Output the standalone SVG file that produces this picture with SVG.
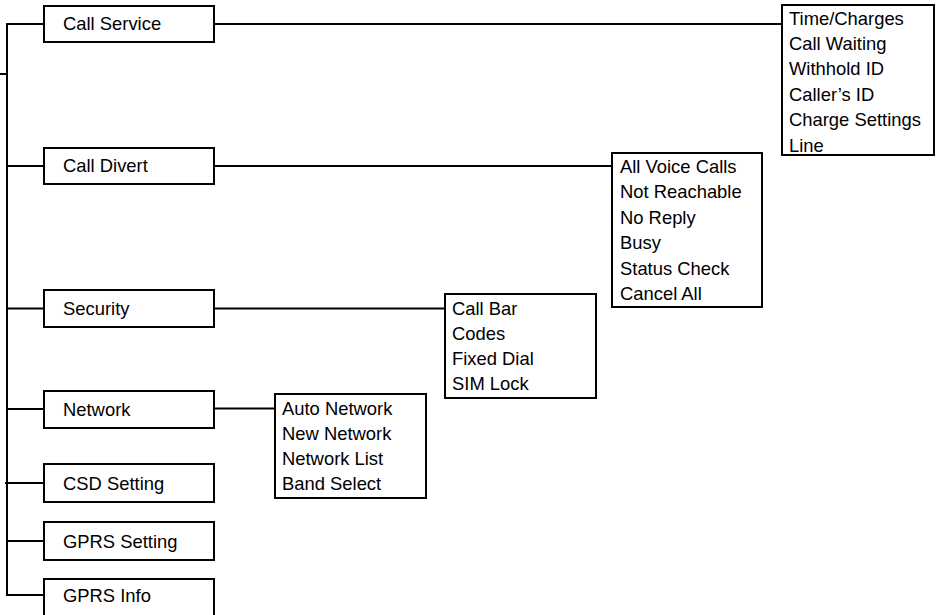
<svg xmlns="http://www.w3.org/2000/svg" width="937" height="615" viewBox="0 0 937 615">
  <style>
    .box { fill: #ffffff; stroke: #000000; stroke-width: 2; }
    .conn { fill: none; stroke: #000000; stroke-width: 2; }
    text { font-family: "Liberation Sans", Arial, sans-serif; font-size: 18.4px; fill: #000000; }
  </style>
  <rect x="0" y="0" width="937" height="615" fill="#ffffff"/>
  <g id="connectors">
    <line class="conn" x1="0" y1="74" x2="7" y2="74"/>
    <line class="conn" x1="7" y1="23" x2="7" y2="596"/>
    <line class="conn" x1="6" y1="24" x2="44" y2="24"/>
    <line class="conn" x1="7" y1="166" x2="44" y2="166"/>
    <line class="conn" x1="7" y1="308.5" x2="44" y2="308.5"/>
    <line class="conn" x1="7" y1="409" x2="44" y2="409"/>
    <line class="conn" x1="5" y1="483" x2="44" y2="483"/>
    <line class="conn" x1="7" y1="541" x2="44" y2="541"/>
    <line class="conn" x1="6" y1="595" x2="44" y2="595"/>
    <line class="conn" x1="214" y1="24" x2="782" y2="24"/>
    <line class="conn" x1="214" y1="166" x2="612" y2="166"/>
    <line class="conn" x1="214" y1="308.5" x2="445" y2="308.5"/>
    <line class="conn" x1="214" y1="408.5" x2="275" y2="408.5"/>
  </g>
  <g id="call-service">
    <rect class="box" x="44" y="6" width="170" height="36"/>
    <text x="63" y="30">Call Service</text>
  </g>
  <g id="call-divert">
    <rect class="box" x="44" y="148" width="170" height="36"/>
    <text x="63" y="172">Call Divert</text>
  </g>
  <g id="security">
    <rect class="box" x="44" y="290" width="170" height="37"/>
    <text x="63" y="314.5">Security</text>
  </g>
  <g id="network">
    <rect class="box" x="44" y="391" width="170" height="37"/>
    <text x="63" y="415.5">Network</text>
  </g>
  <g id="csd-setting">
    <rect class="box" x="44" y="464" width="170" height="38"/>
    <text x="63" y="489.5">CSD Setting</text>
  </g>
  <g id="gprs-setting">
    <rect class="box" x="44" y="522" width="170" height="38"/>
    <text x="63" y="547.5">GPRS Setting</text>
  </g>
  <g id="gprs-info">
    <rect class="box" x="44" y="579" width="170" height="40"/>
    <text x="63" y="601.5">GPRS Info</text>
  </g>
  <g id="call-service-items">
    <rect class="box" x="782" y="5" width="152" height="150"/>
    <text x="789" y="24.5">Time/Charges</text>
    <text x="789" y="49.9">Call Waiting</text>
    <text x="789" y="75.3">Withhold ID</text>
    <text x="789" y="100.7">Caller’s ID</text>
    <text x="789" y="126.1">Charge Settings</text>
    <text x="789" y="151.5">Line</text>
  </g>
  <g id="call-divert-items">
    <rect class="box" x="612" y="153" width="150" height="154"/>
    <text x="620" y="172.5">All Voice Calls</text>
    <text x="620" y="198">Not Reachable</text>
    <text x="620" y="223.5">No Reply</text>
    <text x="620" y="249">Busy</text>
    <text x="620" y="274.5">Status Check</text>
    <text x="620" y="300">Cancel All</text>
  </g>
  <g id="security-items">
    <rect class="box" x="445" y="294" width="151" height="104"/>
    <text x="452" y="314.5">Call Bar</text>
    <text x="452" y="339.5">Codes</text>
    <text x="452" y="364.5">Fixed Dial</text>
    <text x="452" y="389.5">SIM Lock</text>
  </g>
  <g id="network-items">
    <rect class="box" x="275" y="394" width="151" height="104"/>
    <text x="282" y="414.5">Auto Network</text>
    <text x="282" y="439.5">New Network</text>
    <text x="282" y="464.5">Network List</text>
    <text x="282" y="489.5">Band Select</text>
  </g>
</svg>
